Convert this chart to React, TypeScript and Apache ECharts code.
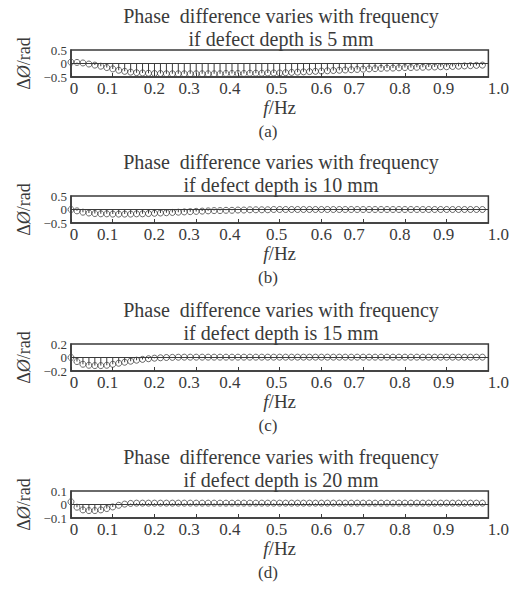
import React, { useEffect, useRef } from 'react';
import * as echarts from 'echarts';

// Sample frequencies (Hz)
const freqs: number[] = [
  0, 0.0143, 0.0286, 0.0429, 0.0571, 0.0714, 0.0857, 0.1, 0.1143, 0.1286,
  0.1429, 0.1571, 0.1714, 0.1857, 0.2, 0.2143, 0.2286, 0.2429, 0.2571, 0.2714,
  0.2857, 0.3, 0.3143, 0.3286, 0.3429, 0.3571, 0.3714, 0.3857, 0.4, 0.4143,
  0.4286, 0.4429, 0.4571, 0.4714, 0.4857, 0.5, 0.5143, 0.5286, 0.5429, 0.5571,
  0.5714, 0.5857, 0.6, 0.6143, 0.6286, 0.6429, 0.6571, 0.6714, 0.6857, 0.7,
  0.7143, 0.7286, 0.7429, 0.7571, 0.7714, 0.7857, 0.8, 0.8143, 0.8286, 0.8429,
  0.8571, 0.8714, 0.8857, 0.9, 0.9143, 0.9286, 0.9429, 0.9571, 0.9714, 0.9857,
];

// Phase difference (rad), defect depth 5 mm
const depth5: number[] = [
  0.05, 0.04, 0.02, -0.02, -0.06, -0.1, -0.15, -0.2, -0.25, -0.29,
  -0.32, -0.34, -0.35, -0.36, -0.37, -0.37, -0.38, -0.38, -0.38, -0.38,
  -0.38, -0.38, -0.38, -0.38, -0.38, -0.38, -0.37, -0.37, -0.37, -0.37,
  -0.36, -0.36, -0.36, -0.35, -0.35, -0.35, -0.34, -0.33, -0.32, -0.31,
  -0.3, -0.29, -0.28, -0.27, -0.26, -0.25, -0.24, -0.23, -0.22, -0.21,
  -0.2, -0.19, -0.18, -0.17, -0.17, -0.16, -0.15, -0.15, -0.14, -0.14,
  -0.13, -0.13, -0.12, -0.12, -0.11, -0.1, -0.09, -0.08, -0.07, -0.06,
];

// defect depth 10 mm
const depth10: number[] = [
  0.0, -0.05, -0.1, -0.13, -0.15, -0.16, -0.16, -0.17, -0.17, -0.17,
  -0.17, -0.16, -0.16, -0.15, -0.14, -0.13, -0.12, -0.11, -0.1, -0.09,
  -0.08, -0.07, -0.06, -0.05, -0.04, -0.04, -0.03, -0.03, -0.02, -0.02,
  -0.01, -0.01, -0.01, -0.01, 0, 0, 0, 0, 0, 0,
  0, 0, 0, 0, 0, 0, 0, 0, 0, 0,
  0, 0, 0, 0, 0, 0, 0, 0, 0, 0,
  0, 0, 0, 0, 0, 0, 0, 0, 0, 0,
];

// defect depth 15 mm
const depth15: number[] = [
  0.0, -0.06, -0.1, -0.115, -0.12, -0.12, -0.115, -0.1, -0.085, -0.07,
  -0.055, -0.04, -0.028, -0.018, -0.01, -0.004, 0.0, 0.002, 0.004, 0.005,
  0.005, 0.005, 0.005, 0.005, 0.005, 0.005, 0.005, 0.005, 0.005, 0.005,
  0.005, 0.005, 0.005, 0.005, 0.005, 0.005, 0.005, 0.005, 0.005, 0.005,
  0.005, 0.005, 0.005, 0.005, 0.005, 0.005, 0.005, 0.005, 0.005, 0.005,
  0.005, 0.005, 0.005, 0.005, 0.005, 0.005, 0.005, 0.005, 0.005, 0.005,
  0.005, 0.005, 0.005, 0.005, 0.005, 0.005, 0.005, 0.005, 0.005, 0.005,
];

// defect depth 20 mm
const depth20: number[] = [
  0.02, -0.02, -0.04, -0.045, -0.045, -0.04, -0.03, -0.018, -0.006, 0.003,
  0.008, 0.01, 0.01, 0.01, 0.01, 0.01, 0.01, 0.01, 0.01, 0.01,
  0.01, 0.01, 0.01, 0.01, 0.01, 0.01, 0.01, 0.01, 0.01, 0.01,
  0.01, 0.01, 0.01, 0.01, 0.01, 0.01, 0.01, 0.01, 0.01, 0.01,
  0.01, 0.01, 0.01, 0.01, 0.01, 0.01, 0.01, 0.01, 0.01, 0.01,
  0.01, 0.01, 0.01, 0.01, 0.01, 0.01, 0.01, 0.01, 0.01, 0.01,
  0.01, 0.01, 0.01, 0.01, 0.01, 0.01, 0.01, 0.01, 0.01, 0.01,
];

const panelValues: number[][] = [depth5, depth10, depth15, depth20];
const depthLabels: string[] = ['5', '10', '15', '20'];
const panelLetters: string[] = ['(a)', '(b)', '(c)', '(d)'];
const yLimits: number[] = [0.5, 0.5, 0.2, 0.1];
const xTickLabels: string[] = ['0', '0.1', '0.2', '0.3', '0.4', '0.5', '0.6', '0.7', '0.8', '0.9', '1.0'];

const SERIF = '"Liberation Serif", "Times New Roman", serif';
const INK = '#3a3a3a';

export default function App() {
  const ref = useRef<HTMLDivElement>(null);

  useEffect(() => {
    if (!ref.current) return;
    const chart = echarts.init(ref.current, undefined, { renderer: 'svg' });

    const panelTop = [0, 146, 294, 441];
    const xLabelShift = [3, -5, 0, -7, -8, -3, 0, -9, -5, -3, 10];

    const xRich: Record<string, any> = {};
    xLabelShift.forEach((s, i) => {
      xRich['p' + i] = {
        fontFamily: SERIF,
        fontSize: 17,
        color: INK,
        padding: s >= 0 ? [0, 0, 0, 2 * s] : [0, -2 * s, 0, 0],
      };
    });

    const fmtY = (v: number) => {
      const r = Math.round(v * 10) / 10;
      if (r === 0) return '0';
      return r < 0 ? '\u2212' + String(Math.abs(r)) : String(r);
    };

    const yLabelStyle = {
      margin: 4,
      hideOverlap: false,
      showMinLabel: true,
      showMaxLabel: true,
      fontFamily: SERIF,
      fontSize: 13,
      lineHeight: 13,
      color: INK,
      formatter: fmtY,
    };

    const grids: any[] = [];
    const xAxes: any[] = [];
    const yAxes: any[] = [];
    const series: any[] = [];
    const titles: any[] = [];
    const graphics: any[] = [];

    panelValues.forEach((vals, i) => {
      const P = panelTop[i];
      const m = yLimits[i];
      titles.push({
        text: 'Phase  difference varies with frequency\nif defect depth is ' + depthLabels[i] + ' mm',
        left: 281,
        top: P + 4,
        padding: 0,
        textAlign: 'center',
        textStyle: {
          fontFamily: SERIF,
          fontSize: 20,
          fontWeight: 'normal',
          color: INK,
          lineHeight: 23,
        },
      });
      grids.push({
        left: 71,
        width: 418,
        top: P + 50,
        height: 27,
        show: true,
        borderColor: INK,
        borderWidth: 1.5,
        backgroundColor: 'transparent',
        containLabel: false,
      });
      xAxes.push({
        type: 'value',
        gridIndex: i,
        min: 0,
        max: 1,
        interval: 0.1,
        axisLine: { show: true, onZero: false, lineStyle: { color: INK, width: 1.5 } },
        axisTick: { show: true, inside: true, length: 4, lineStyle: { color: INK, width: 1 } },
        splitLine: { show: false },
        axisLabel: {
          margin: 3,
          showMinLabel: true,
          showMaxLabel: true,
          hideOverlap: false,
          formatter: (v: number) => {
            const idx = Math.round(v * 10);
            return '{p' + idx + '|' + xTickLabels[idx] + '}';
          },
          rich: xRich,
        },
        name: '{i|f}{n|/Hz}',
        nameLocation: 'middle',
        nameGap: 21,
        nameTextStyle: {
          rich: {
            i: { fontFamily: SERIF, fontSize: 19, fontStyle: 'italic', color: INK },
            n: { fontFamily: SERIF, fontSize: 19, color: INK },
          },
        },
      });
      // main y axis: zero label + axis name
      yAxes.push({
        type: 'value',
        gridIndex: i,
        min: -m,
        max: m,
        interval: m,
        axisLine: { show: true, onZero: false, lineStyle: { color: INK, width: 1.5 } },
        axisTick: { show: false },
        splitLine: { show: false },
        axisLabel: { ...yLabelStyle, customValues: [0] },
        name: '{n|\u0394}{i|\u00d8}{n|/rad}',
        nameLocation: 'middle',
        nameRotate: 90,
        nameGap: 38,
        nameTextStyle: {
          rich: {
            i: { fontFamily: SERIF, fontSize: 18, fontStyle: 'italic', color: INK },
            n: { fontFamily: SERIF, fontSize: 18, color: INK },
          },
        },
      });
      // companion y axis: limit labels
      yAxes.push({
        type: 'value',
        gridIndex: i,
        position: 'left',
        offset: 0,
        min: -m,
        max: m,
        interval: m,
        axisLine: { show: false },
        axisTick: { show: false },
        splitLine: { show: false },
        axisLabel: { ...yLabelStyle, customValues: [-m, m] },
      });
      const pts = freqs.map((f, k) => [f, vals[k]]);
      series.push({
        type: 'bar',
        xAxisIndex: i,
        yAxisIndex: 2 * i,
        data: pts,
        barWidth: 1,
        itemStyle: { color: INK },
        silent: true,
      });
      series.push({
        type: 'scatter',
        xAxisIndex: i,
        yAxisIndex: 2 * i,
        data: pts,
        symbol: 'circle',
        symbolSize: 6,
        itemStyle: { color: 'rgba(0,0,0,0)', borderColor: '#444444', borderWidth: 1 },
        silent: true,
        markLine: {
          silent: true,
          symbol: ['none', 'none'],
          label: { show: false },
          lineStyle: { color: INK, width: 1.2, type: 'solid' },
          data: [{ yAxis: 0 }],
        },
      });
      graphics.push({
        type: 'text',
        x: 268,
        y: P + 131,
        style: {
          text: panelLetters[i],
          fontFamily: SERIF,
          fontSize: 17,
          fill: INK,
          textAlign: 'center',
          textVerticalAlign: 'middle',
        },
      });
    });

    chart.setOption({
      animation: false,
      backgroundColor: '#ffffff',
      title: titles,
      grid: grids,
      xAxis: xAxes,
      yAxis: yAxes,
      series,
      graphic: graphics,
    });

    return () => chart.dispose();
  }, []);

  return (
    <div
      ref={ref}
      style={{ position: 'absolute', left: 0, top: 0, width: 512, height: 593, background: '#fff' }}
    />
  );
}
